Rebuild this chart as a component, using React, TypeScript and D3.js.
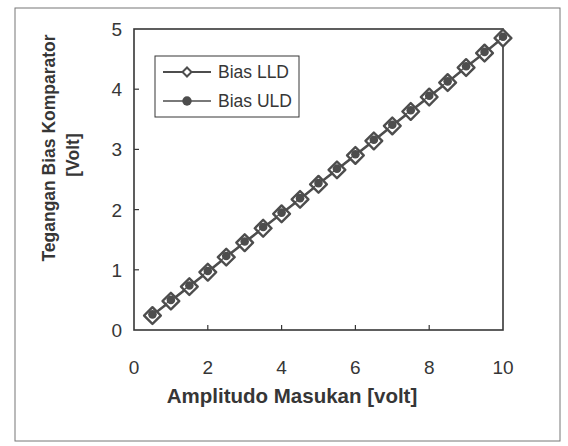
import React from "react";
import * as d3 from "d3";

const xValues = [0.5, 1, 1.5, 2, 2.5, 3, 3.5, 4, 4.5, 5, 5.5, 6, 6.5, 7, 7.5, 8, 8.5, 9, 9.5, 10];
const lldValues = [0.24, 0.48, 0.72, 0.96, 1.21, 1.45, 1.69, 1.93, 2.17, 2.42, 2.66, 2.9, 3.14, 3.39, 3.63, 3.87, 4.11, 4.36, 4.6, 4.85];
const uldValues = [0.26, 0.5, 0.74, 0.98, 1.23, 1.47, 1.71, 1.95, 2.19, 2.44, 2.68, 2.92, 3.16, 3.41, 3.65, 3.89, 4.13, 4.38, 4.62, 4.87];
const xTicks = [0, 2, 4, 6, 8, 10];
const yTicks = [0, 1, 2, 3, 4, 5];
const seriesNames = ["Bias LLD", "Bias ULD"];

const W = 568;
const H = 446;
const FONT = "'Liberation Sans', Arial, Helvetica, sans-serif";
const INK = "#363636";
const MARK = "#4d4d4d";

export default function App() {
  const x = d3.scaleLinear().domain([0, 10]).range([134, 503]);
  const y = d3.scaleLinear().domain([0, 5]).range([330, 29]);

  const line = d3
    .line<number>()
    .x((_, i) => x(xValues[i]))
    .y((d) => y(d));

  const diamond = d3.symbol().type(d3.symbolSquare).size(140)()!;
  const smallDiamond = d3.symbol().type(d3.symbolSquare).size(40)()!;
  const circle = d3.symbol().type(d3.symbolCircle).size(58)()!;
  const smallCircle = d3.symbol().type(d3.symbolCircle).size(70)()!;

  const [x0, x1] = x.range();
  const [y0, y1] = y.range();

  return (
    <svg
      width={W}
      height={H}
      style={{ position: "absolute", left: 0, top: 0, background: "#fff" }}
      fontFamily={FONT}
    >
      <rect x={0} y={0} width={W} height={H} fill="#fff" />
      {/* outer border */}
      <rect x={15} y={8} width={545} height={433} fill="none" stroke="#777" strokeWidth={1} />

      {/* plot frame */}
      <rect x={x0} y={y1} width={x1 - x0} height={y0 - y1} fill="none" stroke={INK} strokeWidth={1.6} />

      {/* ticks */}
      {xTicks.map((t) => (
        <g key={"xt" + t}>
          {t > 0 && t < 10 && (
            <line x1={x(t)} x2={x(t)} y1={y0} y2={y0 - 5} stroke={INK} strokeWidth={1.2} />
          )}
          <text x={x(t)} y={y0 + 44} textAnchor="middle" fontSize={19} fill={INK}>
            {t}
          </text>
        </g>
      ))}
      {yTicks.map((t) => (
        <g key={"yt" + t}>
          {t > 0 && t < 5 && (
            <line x1={x0} x2={x0 + 5} y1={y(t)} y2={y(t)} stroke={INK} strokeWidth={1.2} />
          )}
          <text x={122} y={y(t) + 7} textAnchor="end" fontSize={19} fill={INK}>
            {t}
          </text>
        </g>
      ))}

      {/* LLD series */}
      <path d={line(lldValues)!} fill="none" stroke={MARK} strokeWidth={2} />
      {lldValues.map((v, i) => (
        <path
          key={"l" + i}
          d={diamond}
          transform={`translate(${x(xValues[i])},${y(v)}) rotate(45)`}
          fill="#fff"
          stroke={MARK}
          strokeWidth={2.4}
          strokeLinejoin="round"
        />
      ))}
      {/* ULD series */}
      <path d={line(uldValues)!} fill="none" stroke={MARK} strokeWidth={1.2} />
      {uldValues.map((v, i) => (
        <path
          key={"u" + i}
          d={circle}
          transform={`translate(${x(xValues[i])},${y(v)})`}
          fill={MARK}
        />
      ))}

      {/* legend */}
      <rect x={155} y={56} width={144} height={61} fill="#fff" stroke={INK} strokeWidth={1} />
      <line x1={163} x2={211} y1={72} y2={72} stroke={MARK} strokeWidth={2} />
      <path d={smallDiamond} transform="translate(187,72) rotate(45)" fill="#fff" stroke={MARK} strokeWidth={2} />
      <text x={218} y={78} fontSize={17.5} fill={INK}>
        {seriesNames[0]}
      </text>
      <line x1={163} x2={211} y1={101} y2={101} stroke={MARK} strokeWidth={1.4} />
      <path d={smallCircle} transform="translate(187,101)" fill={MARK} />
      <text x={218} y={107} fontSize={17.5} fill={INK}>
        {seriesNames[1]}
      </text>

      {/* axis titles */}
      <text x={292} y={403} textAnchor="middle" fontSize={20.5} fontWeight="bold" fill={INK}>
        Amplitudo Masukan [volt]
      </text>
      <text
        transform="translate(55,148) rotate(-90)"
        textAnchor="middle"
        fontSize={17.5}
        fontWeight="bold"
        fill={INK}
      >
        Tegangan Bias Komparator
      </text>
      <text
        transform="translate(79,155) rotate(-90)"
        textAnchor="middle"
        fontSize={17.5}
        fontWeight="bold"
        fill={INK}
      >
        [Volt]
      </text>
    </svg>
  );
}
